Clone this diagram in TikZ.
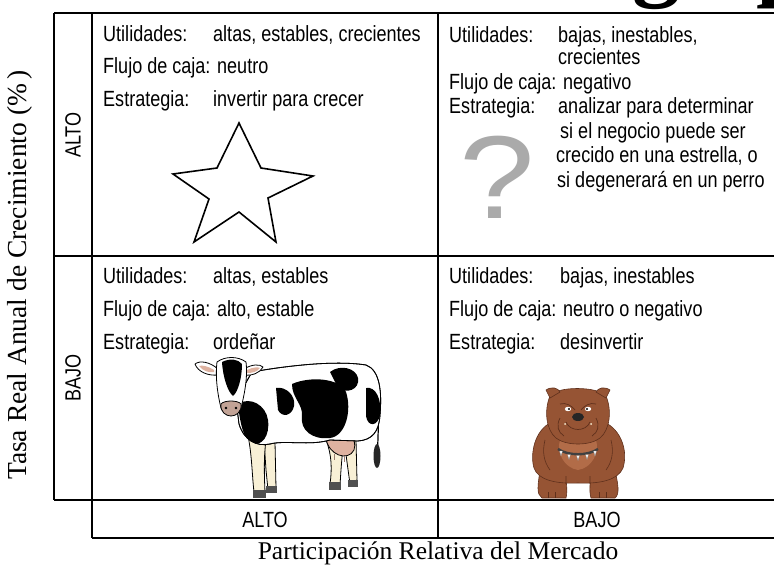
\documentclass[tikz,border=0pt]{standalone}
\usepackage{fontspec}
\setmainfont{Liberation Serif}
\newfontfamily\narrow[FakeStretch=0.82]{Liberation Sans}
\newfontfamily\qfont[FakeStretch=1.15]{Liberation Sans}
\begin{document}
\begin{tikzpicture}[x=1pt,y=-1pt,
  rule/.style={line width=1.3pt},
  txt/.style={font=\narrow\fontsize{22}{25}\selectfont, anchor=base west, inner sep=0pt},
  head/.style={font=\narrow\fontsize{22}{25}\selectfont, inner sep=0pt},
  axis/.style={inner sep=0pt},
  outline/.style={draw=black, line width=0.8pt, line join=round},
  spot/.style={fill=black},
  fur/.style={fill=dogbrown, draw=dogdark, line width=0.6pt},
]
\definecolor{dogbrown}{RGB}{150,84,52}
\definecolor{dogdark}{RGB}{95,48,28}
\definecolor{doglight}{RGB}{178,108,72}
\definecolor{cream}{RGB}{248,240,214}
\definecolor{udder}{RGB}{222,178,160}
\definecolor{hoof}{RGB}{80,80,80}
\definecolor{qgray}{RGB}{170,170,170}

\useasboundingbox (0,0) rectangle (774,565);
\clip (0,0) rectangle (774,565);

% title fragment above the table
\node[anchor=base west, inner sep=0pt, font=\bfseries\fontsize{96}{96}\selectfont] (tg) at (632,-12) {g};
\node[anchor=base west, inner sep=0pt, font=\bfseries\fontsize{96}{96}\selectfont] (tp) at (756,-12) {p};

% table rules (the table runs on past the right edge)
\draw[rule] (54,13) -- (774,13);
\draw[rule] (54,13) -- (54,500);
\draw[rule] (92,13) -- (92,538);
\draw[rule] (438,13) -- (438,538);
\draw[rule] (54,256) -- (774,256);
\draw[rule] (54,500) -- (774,500);
\draw[rule] (92,538) -- (774,538);

% axis titles
\node[axis, rotate=90, font=\fontsize{27.5}{30}\selectfont] (yaxis) at (20,275) {Tasa Real Anual de Crecimiento (\%\,)};
\node[axis, font=\fontsize{25.5}{28}\selectfont] (xaxis) at (438,553) {Participación Relativa del Mercado};

% row and column headings
\node[head, rotate=90] (rowhi) at (73,135) {ALTO};
\node[head, rotate=90] (rowlo) at (73,378) {BAJO};
\node[head] (colhi) at (265,520) {ALTO};
\node[head] (collo) at (597,520) {BAJO};

% stars
\node[txt] (s1) at (103,41) {Utilidades:};
\node[txt] (s1v) at (213,41) {altas, estables, crecientes};
\node[txt] (s2) at (103,73.5) {Flujo de caja: neutro};
\node[txt] (s3) at (103,106) {Estrategia:};
\node[txt] (s3v) at (213,106) {invertir para crecer};
\draw[line width=1.6pt, line join=miter, fill=white]
  (239,123) -- (261,168) -- (313,176) -- (268,198) -- (276,242) -- (239,212)
  -- (194,242) -- (209,199) -- (173,174) -- (217,168) -- cycle;

% question marks
\node[txt] (q1) at (449,42) {Utilidades:};
\node[txt] (q1v) at (558,42) {bajas, inestables,};
\node[txt] (q1w) at (558,64.5) {crecientes};
\node[txt] (q2) at (449,89) {Flujo de caja: negativo};
\node[txt] (q3) at (449,113.5) {Estrategia:};
\node[txt] (q3v) at (558,113.5) {analizar para determinar};
\node[txt] (q3w) at (560,138) {si el negocio puede ser};
\node[txt] (q3x) at (556,162.5) {crecido en una estrella, o};
\node[txt] (q3y) at (557,187) {si degenerará en un perro};
\node[inner sep=0pt, anchor=base, text=qgray, font=\qfont\fontsize{118}{118}\selectfont] (qm) at (497,218) {?};

% cash cows
\node[txt] (c1) at (103,283) {Utilidades:};
\node[txt] (c1v) at (213,283) {altas, estables};
\node[txt] (c2) at (103,316) {Flujo de caja: alto, estable};
\node[txt] (c3) at (103,349) {Estrategia:};
\node[txt] (c3v) at (213,349) {ordeñar};

% dogs
\node[txt] (d1) at (449,283) {Utilidades:};
\node[txt] (d1v) at (560,283) {bajas, inestables};
\node[txt] (d2) at (449,316) {Flujo de caja: neutro o negativo};
\node[txt] (d3) at (449,349) {Estrategia:};
\node[txt] (d3v) at (560,349) {desinvertir};

% ---- cow ----
% far legs
\path[outline, fill=cream] (264,440) -- (275,442) -- (276,488) -- (268,490) -- (266,470) -- cycle;
\path[outline, fill=cream] (344,440) -- (356,440) -- (357,480) -- (350,484) -- (347,462) -- cycle;
\fill[hoof] (266,486) rectangle (277,493);
\fill[hoof] (348,480) rectangle (358,487);
% near legs
\path[outline, fill=cream] (248,436) .. controls (252,455) and (252,475) .. (254,492) -- (265,492) .. controls (264,470) and (264,455) .. (266,440) -- cycle;
\path[outline, fill=cream] (326,440) .. controls (332,455) and (332,470) .. (330,484) -- (340,486) .. controls (341,468) and (342,455) .. (344,440) -- cycle;
\fill[hoof] (253,490) rectangle (266,498);
\fill[hoof] (329,482) rectangle (341,490);
% udder
\path[outline, fill=udder] (326,438) .. controls (328,455) and (348,462) .. (354,450) .. controls (356,444) and (354,438) .. (350,436) -- cycle;
\draw[line width=1pt, udder!70!black] (334,454) -- (334,460) (344,456) -- (344,462);
% tail
\draw[line width=1.2pt] (376,378) .. controls (380,400) and (378,440) .. (377,462);
\fill[black!85] (377,456) ellipse (3.5 and 12);
% body
\path[outline, fill=white] (252,372)
  .. controls (285,366) and (335,360) .. (366,365)
  .. controls (380,370) and (382,392) .. (380,415)
  .. controls (379,432) and (372,440) .. (358,441)
  -- (330,440)
  .. controls (310,446) and (285,440) .. (270,444)
  .. controls (256,447) and (244,440) .. (239,424)
  -- (236,400) -- cycle;
\begin{scope}
  \clip (252,372)
  .. controls (285,366) and (335,360) .. (366,365)
  .. controls (380,370) and (382,392) .. (380,415)
  .. controls (379,432) and (372,440) .. (358,441)
  -- (330,440)
  .. controls (310,446) and (285,440) .. (270,444)
  .. controls (256,447) and (244,440) .. (239,424)
  -- (236,400) -- cycle;
  \fill[spot] (292,384) .. controls (310,376) and (340,378) .. (346,392)
    .. controls (352,410) and (346,436) .. (330,438)
    .. controls (312,440) and (300,430) .. (302,416)
    .. controls (303,404) and (292,398) .. (292,384) -- cycle;
  \fill[spot] (276,388) .. controls (286,386) and (296,396) .. (294,406)
    .. controls (292,416) and (282,418) .. (278,410) -- cycle;
  \fill[spot] (238,404) .. controls (250,396) and (266,405) .. (268,420)
    .. controls (270,436) and (262,446) .. (252,444)
    .. controls (244,440) and (240,424) .. (238,404) -- cycle;
  \fill[spot] (330,372) .. controls (340,364) and (356,368) .. (358,378)
    .. controls (360,390) and (346,394) .. (338,388) -- cycle;
  \fill[spot] (366,388) .. controls (376,386) and (382,400) .. (380,415)
    .. controls (378,426) and (368,428) .. (366,416) -- cycle;
\end{scope}
\path[outline] (252,372)
  .. controls (285,366) and (335,360) .. (366,365)
  .. controls (380,370) and (382,392) .. (380,415)
  .. controls (379,432) and (372,440) .. (358,441)
  -- (330,440)
  .. controls (310,446) and (285,440) .. (270,444)
  .. controls (256,447) and (244,440) .. (239,424)
  -- (236,400) -- cycle;
% ears
\path[outline, fill=white] (218,369) .. controls (210,362) and (200,360) .. (195,364)
  .. controls (198,372) and (208,376) .. (218,375) -- cycle;
\fill[udder] (214,370) .. controls (208,366) and (202,365) .. (199,366) .. controls (203,371) and (209,373) .. (214,372) -- cycle;
\path[outline, fill=white] (244,369) .. controls (252,364) and (260,364) .. (263,367)
  .. controls (260,373) and (252,376) .. (244,375) -- cycle;
\fill[udder] (247,370) .. controls (253,367) and (258,367) .. (260,368) .. controls (257,372) and (252,373) .. (247,373) -- cycle;
% head
\path[outline, fill=white] (217,362) .. controls (225,356) and (238,356) .. (246,362)
  .. controls (248,378) and (244,396) .. (241,408)
  .. controls (238,416) and (224,416) .. (221,408)
  .. controls (218,396) and (215,378) .. (217,362) -- cycle;
\fill[spot] (222,362) .. controls (230,358) and (238,359) .. (242,364)
  .. controls (242,378) and (238,392) .. (233,396)
  .. controls (228,392) and (223,378) .. (222,362) -- cycle;
\path[outline, fill=udder!70!gray] (221,404) .. controls (224,400) and (238,400) .. (241,404)
  .. controls (242,412) and (236,416) .. (231,416)
  .. controls (226,416) and (220,412) .. (221,404) -- cycle;
\fill[black] (226,408) circle (1.3) (236,408) circle (1.3);

% ---- bulldog ----
% paws
\path[fur] (540,470) .. controls (538,485) and (536,494) .. (542,498)
  -- (566,498) .. controls (568,490) and (566,478) .. (564,470) -- cycle;
\path[fur] (592,470) .. controls (590,480) and (589,492) .. (591,498)
  -- (615,498) .. controls (620,494) and (618,484) .. (615,470) -- cycle;
\draw[dogdark, line width=0.6pt] (548,492) -- (548,498) (555,492) -- (555,498) (599,492) -- (599,498) (606,492) -- (606,498);
% body
\path[fur] (552,422) .. controls (534,430) and (530,455) .. (534,468)
  .. controls (538,480) and (556,484) .. (578,483)
  .. controls (600,484) and (618,480) .. (623,468)
  .. controls (628,452) and (622,430) .. (604,422) -- cycle;
\path[fill=doglight] (560,440) .. controls (566,432) and (590,432) .. (596,440)
  .. controls (600,452) and (592,468) .. (578,470)
  .. controls (564,468) and (556,452) .. (560,440) -- cycle;
\draw[dogdark, line width=0.6pt] (545,440) .. controls (542,452) and (544,462) .. (550,470)
  (611,440) .. controls (614,452) and (612,462) .. (606,470)
  (566,476) -- (566,484) (590,476) -- (590,484);
% collar with spikes
\draw[black!75, line width=2.4pt] (558,449) .. controls (568,456) and (588,456) .. (598,449);
\foreach \sx/\sy in {561/451, 569/454.5, 578/455.5, 587/454.5, 595/451}
  \fill[white, draw=gray, line width=0.3pt] (\sx-1.5,\sy) -- (\sx,\sy+5) -- (\sx+1.5,\sy) -- cycle;
% head
\path[fur] (550,396) .. controls (556,386) and (598,386) .. (606,396)
  .. controls (612,410) and (610,430) .. (600,438)
  .. controls (590,446) and (566,446) .. (556,438)
  .. controls (546,430) and (544,410) .. (550,396) -- cycle;
% ears
\path[fur] (550,398) -- (546,390) .. controls (552,386) and (558,388) .. (560,392) -- cycle;
\path[fur] (606,398) -- (610,390) .. controls (604,386) and (598,388) .. (596,392) -- cycle;
% brow and jowls
\draw[dogdark, line width=0.7pt] (560,404) .. controls (566,402) and (572,406) .. (575,410)
  (596,404) .. controls (590,402) and (584,406) .. (581,410)
  (566,422) .. controls (570,432) and (586,432) .. (590,422)
  (560,418) .. controls (556,426) and (558,432) .. (564,436)
  (596,418) .. controls (600,426) and (598,432) .. (592,436);
% eyes
\fill[white] (568,409) ellipse (3.2 and 2.2) (588,409) ellipse (3.2 and 2.2);
\fill[black] (569,409) circle (1.2) (587,409) circle (1.2);
% nose
\fill[black!85] (578,417) ellipse (6 and 4);
\fill[cream] (565,424) circle (1) (591,424) circle (1);
\end{tikzpicture}
\end{document}
